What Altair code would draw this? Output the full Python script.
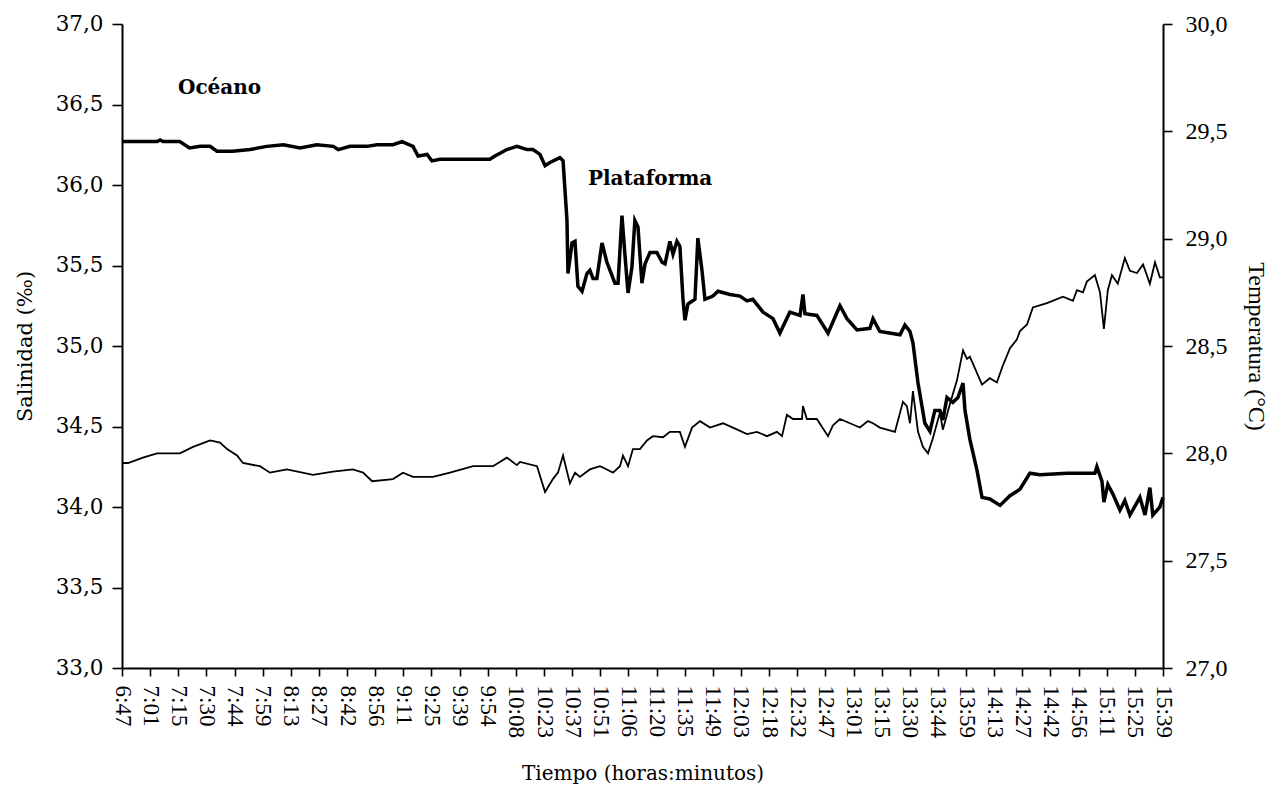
import altair as alt
import pandas as pd

# Etiquetas del eje de tiempo (horas:minutos)
time_labels = [
    "6:47", "7:01", "7:15", "7:30", "7:44", "7:59", "8:13", "8:27", "8:42", "8:56",
    "9:11", "9:25", "9:39", "9:54", "10:08", "10:23", "10:37", "10:51", "11:06", "11:20",
    "11:35", "11:49", "12:03", "12:18", "12:32", "12:47", "13:01", "13:15", "13:30", "13:44",
    "13:59", "14:13", "14:27", "14:42", "14:56", "15:11", "15:25", "15:39",
]

# Salinidad (‰): tiempo en minutos desde medianoche y valor
sal_t = [
    407, 425, 426.5, 428, 436.5, 441.5, 447, 452, 455.5, 463.5, 472.5, 481, 489.5, 498,
    506.5, 515, 517.5, 523.5, 532.2, 537.3, 545.5, 550.1, 555.7, 558.3, 562.9, 565.4,
    569.5, 579.7, 589.9, 595.0, 597.6, 603.7, 608.8, 614.0, 617.0, 620.6, 623.2, 625.7,
    630.8, 632.4, 634.4, 634.9, 637.0, 638.5, 640.0, 642.1, 644.6, 646.1, 647.7, 649.7,
    652.3, 654.8, 658.9, 660.5, 662.5, 664.0, 665.6, 667.6, 669.1, 670.7, 672.7, 674.3,
    676.8, 680.4, 683.0, 684.5, 687.0, 688.6, 690.6, 692.1, 693.7, 694.7, 696.2, 699.8,
    701.3, 703.4, 704.9, 709.0, 711.6, 717.7, 722.8, 726.4, 729.4, 734.6, 739.7, 743.2,
    748.3, 753.5, 755.0, 756.0, 762.1, 767.3, 767.8, 773.9, 777.5, 782.6, 789.2, 790.8,
    794.3, 804.6, 807.1, 809.7, 811.2, 813.8, 817.3, 819.9, 822.4, 825.0, 826.5, 828.6,
    831.6, 834.2, 836.8, 837.8, 840.3, 843.9, 846.5, 850.5, 855.7, 860.8, 865.9, 871.0,
    876.1, 889.9, 904.2, 905.2, 907.8, 908.8, 910.8, 913.4, 917.0, 919.5, 922.1, 927.2,
    929.8, 932.3, 933.8, 937.4, 939.0,
]
sal_v = [
    36.27, 36.27, 36.28, 36.27, 36.27, 36.23, 36.24, 36.24, 36.21, 36.21, 36.22, 36.24, 36.25, 36.23,
    36.25, 36.24, 36.22, 36.24, 36.24, 36.25, 36.25, 36.27, 36.24, 36.18, 36.19, 36.15,
    36.16, 36.16, 36.16, 36.16, 36.18, 36.22, 36.24, 36.22, 36.22, 36.19, 36.12, 36.14,
    36.17, 36.15, 35.78, 35.45, 35.64, 35.65, 35.37, 35.34, 35.45, 35.47, 35.42, 35.42,
    35.64, 35.52, 35.39, 35.39, 35.81, 35.57, 35.33, 35.49, 35.78, 35.74, 35.39, 35.51,
    35.58, 35.58, 35.52, 35.51, 35.65, 35.57, 35.65, 35.62, 35.29, 35.16, 35.26, 35.29,
    35.67, 35.47, 35.29, 35.31, 35.34, 35.32, 35.31, 35.28, 35.29, 35.21, 35.17, 35.08,
    35.21, 35.19, 35.32, 35.20, 35.19, 35.09, 35.08, 35.25, 35.17, 35.10, 35.11, 35.17,
    35.09, 35.07, 35.13, 35.09, 35.02, 34.77, 34.52, 34.47, 34.60, 34.60, 34.54, 34.68,
    34.65, 34.68, 34.77, 34.60, 34.42, 34.23, 34.06, 34.05, 34.01, 34.07, 34.11, 34.21,
    34.20, 34.21, 34.21, 34.25, 34.16, 34.03, 34.14, 34.08, 33.98, 34.04, 33.95, 34.06,
    33.95, 34.12, 33.95, 34.00, 34.06,
]

# Temperatura (°C): tiempo en minutos desde medianoche y valor
temp_t = [
    407, 410.1, 417.7, 424.9, 436.6, 443.3, 452.0, 457.1, 460.7, 465.8, 468.8, 477.5, 482.6,
    491.3, 504.6, 514.8, 525.0, 530.2, 534.8, 545.5, 550.6, 555.7, 565.9, 574.6, 586.4,
    596.6, 603.7, 608.8, 610.4, 619.1, 623.2, 627.2, 629.8, 632.4, 635.9, 638.5, 641.0,
    646.1, 651.3, 654.8, 657.9, 661.5, 663.0, 665.6, 668.1, 671.7, 675.3, 678.3, 683.5,
    687.0, 692.1, 694.7, 698.3, 702.4, 707.5, 714.1, 719.2, 726.4, 731.5, 736.6, 741.7,
    744.3, 746.8, 749.9, 754.5, 755.0, 757.0, 762.1, 767.8, 770.3, 773.9, 779.0, 784.1,
    788.2, 790.8, 794.3, 802.0, 806.1, 808.1, 809.7, 811.2, 813.8, 816.3, 818.9, 821.4,
    825.0, 826.5, 830.1, 833.7, 836.8, 838.8, 840.3, 846.5, 850.5, 854.1, 857.2, 860.8,
    864.3, 865.9, 869.5, 872.5, 879.7, 887.9, 893.0, 895.0, 898.1, 900.1, 904.2, 906.8,
    908.8, 910.8, 912.9, 915.9, 919.5, 922.1, 925.7, 928.8, 932.3, 934.9, 937.4, 939.0,
]
temp_v = [
    27.955, 27.955, 27.98, 28.00, 28.00, 28.03, 28.06, 28.05, 28.02, 27.99, 27.955, 27.94, 27.91,
    27.925, 27.90, 27.915, 27.925, 27.91, 27.87, 27.88, 27.91, 27.89, 27.89, 27.91, 27.94,
    27.94, 27.98, 27.945, 27.96, 27.94, 27.82, 27.88, 27.91, 27.99, 27.86, 27.91, 27.89,
    27.925, 27.94, 27.925, 27.91, 27.94, 27.99, 27.94, 28.02, 28.02, 28.06, 28.08, 28.075,
    28.10, 28.10, 28.03, 28.12, 28.15, 28.12, 28.14, 28.12, 28.09, 28.10, 28.08, 28.10,
    28.08, 28.18, 28.16, 28.16, 28.22, 28.16, 28.16, 28.08, 28.13, 28.16, 28.14, 28.12,
    28.15, 28.14, 28.12, 28.10, 28.24, 28.22, 28.14, 28.29, 28.10, 28.03, 28.00, 28.07,
    28.19, 28.11, 28.23, 28.34, 28.48, 28.44, 28.45, 28.32, 28.35, 28.33, 28.41, 28.49,
    28.53, 28.57, 28.60, 28.68, 28.70, 28.73, 28.71, 28.76, 28.75, 28.80, 28.83, 28.75,
    28.58, 28.76, 28.83, 28.79, 28.91, 28.85, 28.84, 28.88, 28.79, 28.89, 28.82, 28.82,
]

# Rótulos dentro del gráfico (tiempo, salinidad)
notes = ["Océano", "Plataforma"]
notes_t = [435.6, 645.1]
notes_v = [36.60, 36.04]


def to_minutes(label):
    h, m = label.split(":")
    return int(h) * 60 + int(m)


t0 = to_minutes(time_labels[0])
t1 = to_minutes(time_labels[-1])
n = len(time_labels) - 1
# marcas equiespaciadas a lo largo del registro, una por etiqueta
tick_values = [round(t0 + i * (t1 - t0) / n, 4) for i in range(n)] + [t1]
label_expr = (
    "[" + ",".join(f"'{s}'" for s in time_labels) + "]"
    + f"[round((datum.value - {t0}) * {n} / {t1 - t0})]"
)
comma_expr = "replace(format(datum.value, '.1f'), '.', ',')"

sal_df = pd.DataFrame({"t": sal_t, "v": sal_v})
temp_df = pd.DataFrame({"t": temp_t, "v": temp_v})
notes_df = pd.DataFrame({"t": notes_t, "v": notes_v, "txt": notes})

x_enc = alt.X(
    "t:Q",
    scale=alt.Scale(domain=[t0, t1], nice=False, zero=False),
    axis=alt.Axis(
        values=tick_values,
        tickCount=len(tick_values),
        labelExpr=label_expr,
        labelAngle=90,
        labelAlign="left",
        labelBaseline="middle",
        labelFont="Liberation Serif",
        labelFontSize=23,
        labelPadding=9,
        labelOverlap=False,
        labelFlush=False,
        tickSize=8,
        title="Tiempo (horas:minutos)",
        titleFont="DejaVu Serif",
        titleFontSize=20,
        titleFontWeight="normal",
        titlePadding=26,
        grid=False,
    ),
)

sal_axis = alt.Axis(
    orient="left",
    values=[33 + 0.5 * i for i in range(9)],
    tickCount=9,
    labelExpr=comma_expr,
    labelFont="DejaVu Serif",
    labelFontSize=21.5,
    labelPadding=9,
    tickSize=10,
    title="Salinidad (‰)",
    titleFont="DejaVu Serif",
    titleFontSize=21,
    titleFontWeight="normal",
    titlePadding=20,
    grid=False,
)

temp_axis = alt.Axis(
    orient="right",
    values=[27 + 0.5 * i for i in range(7)],
    tickCount=7,
    labelExpr=comma_expr,
    labelFont="Liberation Serif",
    labelFontSize=24,
    labelPadding=13,
    tickSize=9,
    title="Temperatura (°C)",
    titleFont="Liberation Serif",
    titleFontSize=24,
    titleFontWeight="normal",
    titlePadding=16,
    grid=False,
)

sal_line = alt.Chart(sal_df).mark_line(color="black", strokeWidth=3.5).encode(
    x=x_enc,
    y=alt.Y("v:Q", scale=alt.Scale(domain=[33, 37], nice=False, zero=False), axis=sal_axis),
)

labels = alt.Chart(notes_df).mark_text(
    align="left", baseline="middle", font="DejaVu Serif", fontSize=20, fontWeight="bold", color="black"
).encode(
    x=alt.X("t:Q"),
    y=alt.Y("v:Q"),
    text="txt:N",
)

temp_line = alt.Chart(temp_df).mark_line(color="black", strokeWidth=1.8).encode(
    x=x_enc,
    y=alt.Y("v:Q", scale=alt.Scale(domain=[27, 30], nice=False, zero=False), axis=temp_axis),
)

chart = (
    alt.layer(alt.layer(sal_line, labels), temp_line)
    .resolve_scale(y="independent")
    .properties(
        width=1041,
        height=644,
        autosize=alt.AutoSizeParams(type="none"),
        padding={"left": 122, "top": 24, "right": 122, "bottom": 123},
        background="white",
    )
    .configure_view(stroke=None)
    .configure_axis(
        domainColor="black",
        domainWidth=2,
        tickColor="black",
        tickWidth=1.6,
        labelColor="black",
        titleColor="black",
    )
)

chart.save("out.html", embed_options={"renderer": "svg", "actions": False})
